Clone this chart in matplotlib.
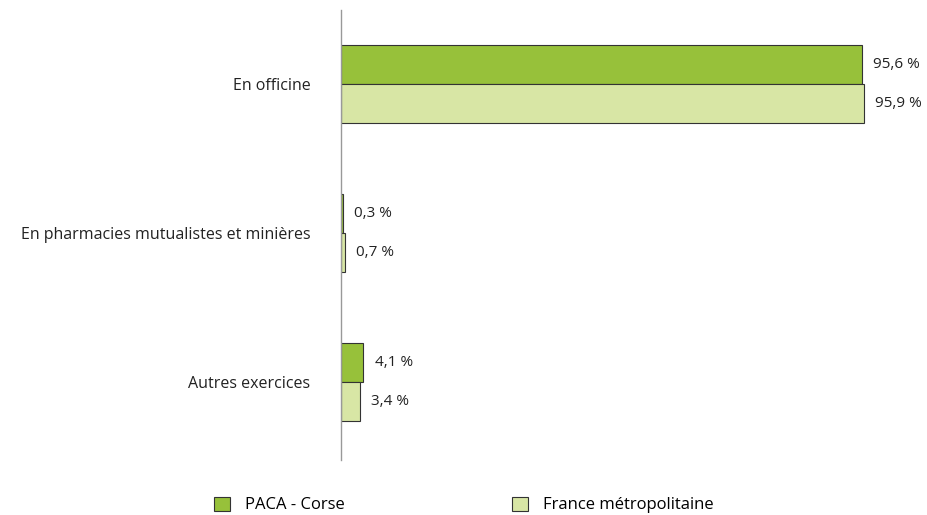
import numpy as np
import matplotlib.pyplot as plt

categories = ["En officine", "En pharmacies mutualistes et minières", "Autres exercices"]
paca = [95.6, 0.3, 4.1]
france = [95.9, 0.7, 3.4]
paca_labels = ["95,6 %", "0,3 %", "4,1 %"]
france_labels = ["95,9 %", "0,7 %", "3,4 %"]

plt.rcParams['font.family'] = ['Open Sans', 'DejaVu Sans']

fig = plt.figure(figsize=(9.28, 5.15), dpi=100)
ax = fig.add_axes([0.3675, 0.107, 0.5875, 0.874])

y = np.arange(len(categories))
h = 0.262
ax.barh(y - h / 2, paca, height=h, color='#97c13a', edgecolor='#333333',
        linewidth=0.8, label='PACA - Corse')
ax.barh(y + h / 2, france, height=h, color='#d8e6a5', edgecolor='#333333',
        linewidth=0.8, label='France métropolitaine')

for yy, v, t in zip(y - h / 2, paca, paca_labels):
    ax.annotate(t, (v, yy), xytext=(8, 0), textcoords='offset points',
                va='center', ha='left', fontsize=11, color='#222222')
for yy, v, t in zip(y + h / 2, france, france_labels):
    ax.annotate(t, (v, yy), xytext=(8, 0), textcoords='offset points',
                va='center', ha='left', fontsize=11, color='#222222')

ax.set_xlim(0, 100)
ax.set_ylim(2.52, -0.5)
ax.set_yticks(y)
ax.set_yticklabels(categories, fontsize=11.5, color='#222222')
ax.tick_params(axis='y', length=0, pad=22)
ax.set_xticks([])
for s in ['top', 'right', 'bottom']:
    ax.spines[s].set_visible(False)
ax.spines['left'].set_color('#999999')
ax.spines['left'].set_linewidth(1)

fig.legend(loc='lower left', bbox_to_anchor=(0.214, -0.026), ncol=2, frameon=False,
           fontsize=12, columnspacing=10.0, handlelength=1.0, handleheight=0.9,
           handletextpad=0.9)

fig.savefig('out.png', dpi=100)
